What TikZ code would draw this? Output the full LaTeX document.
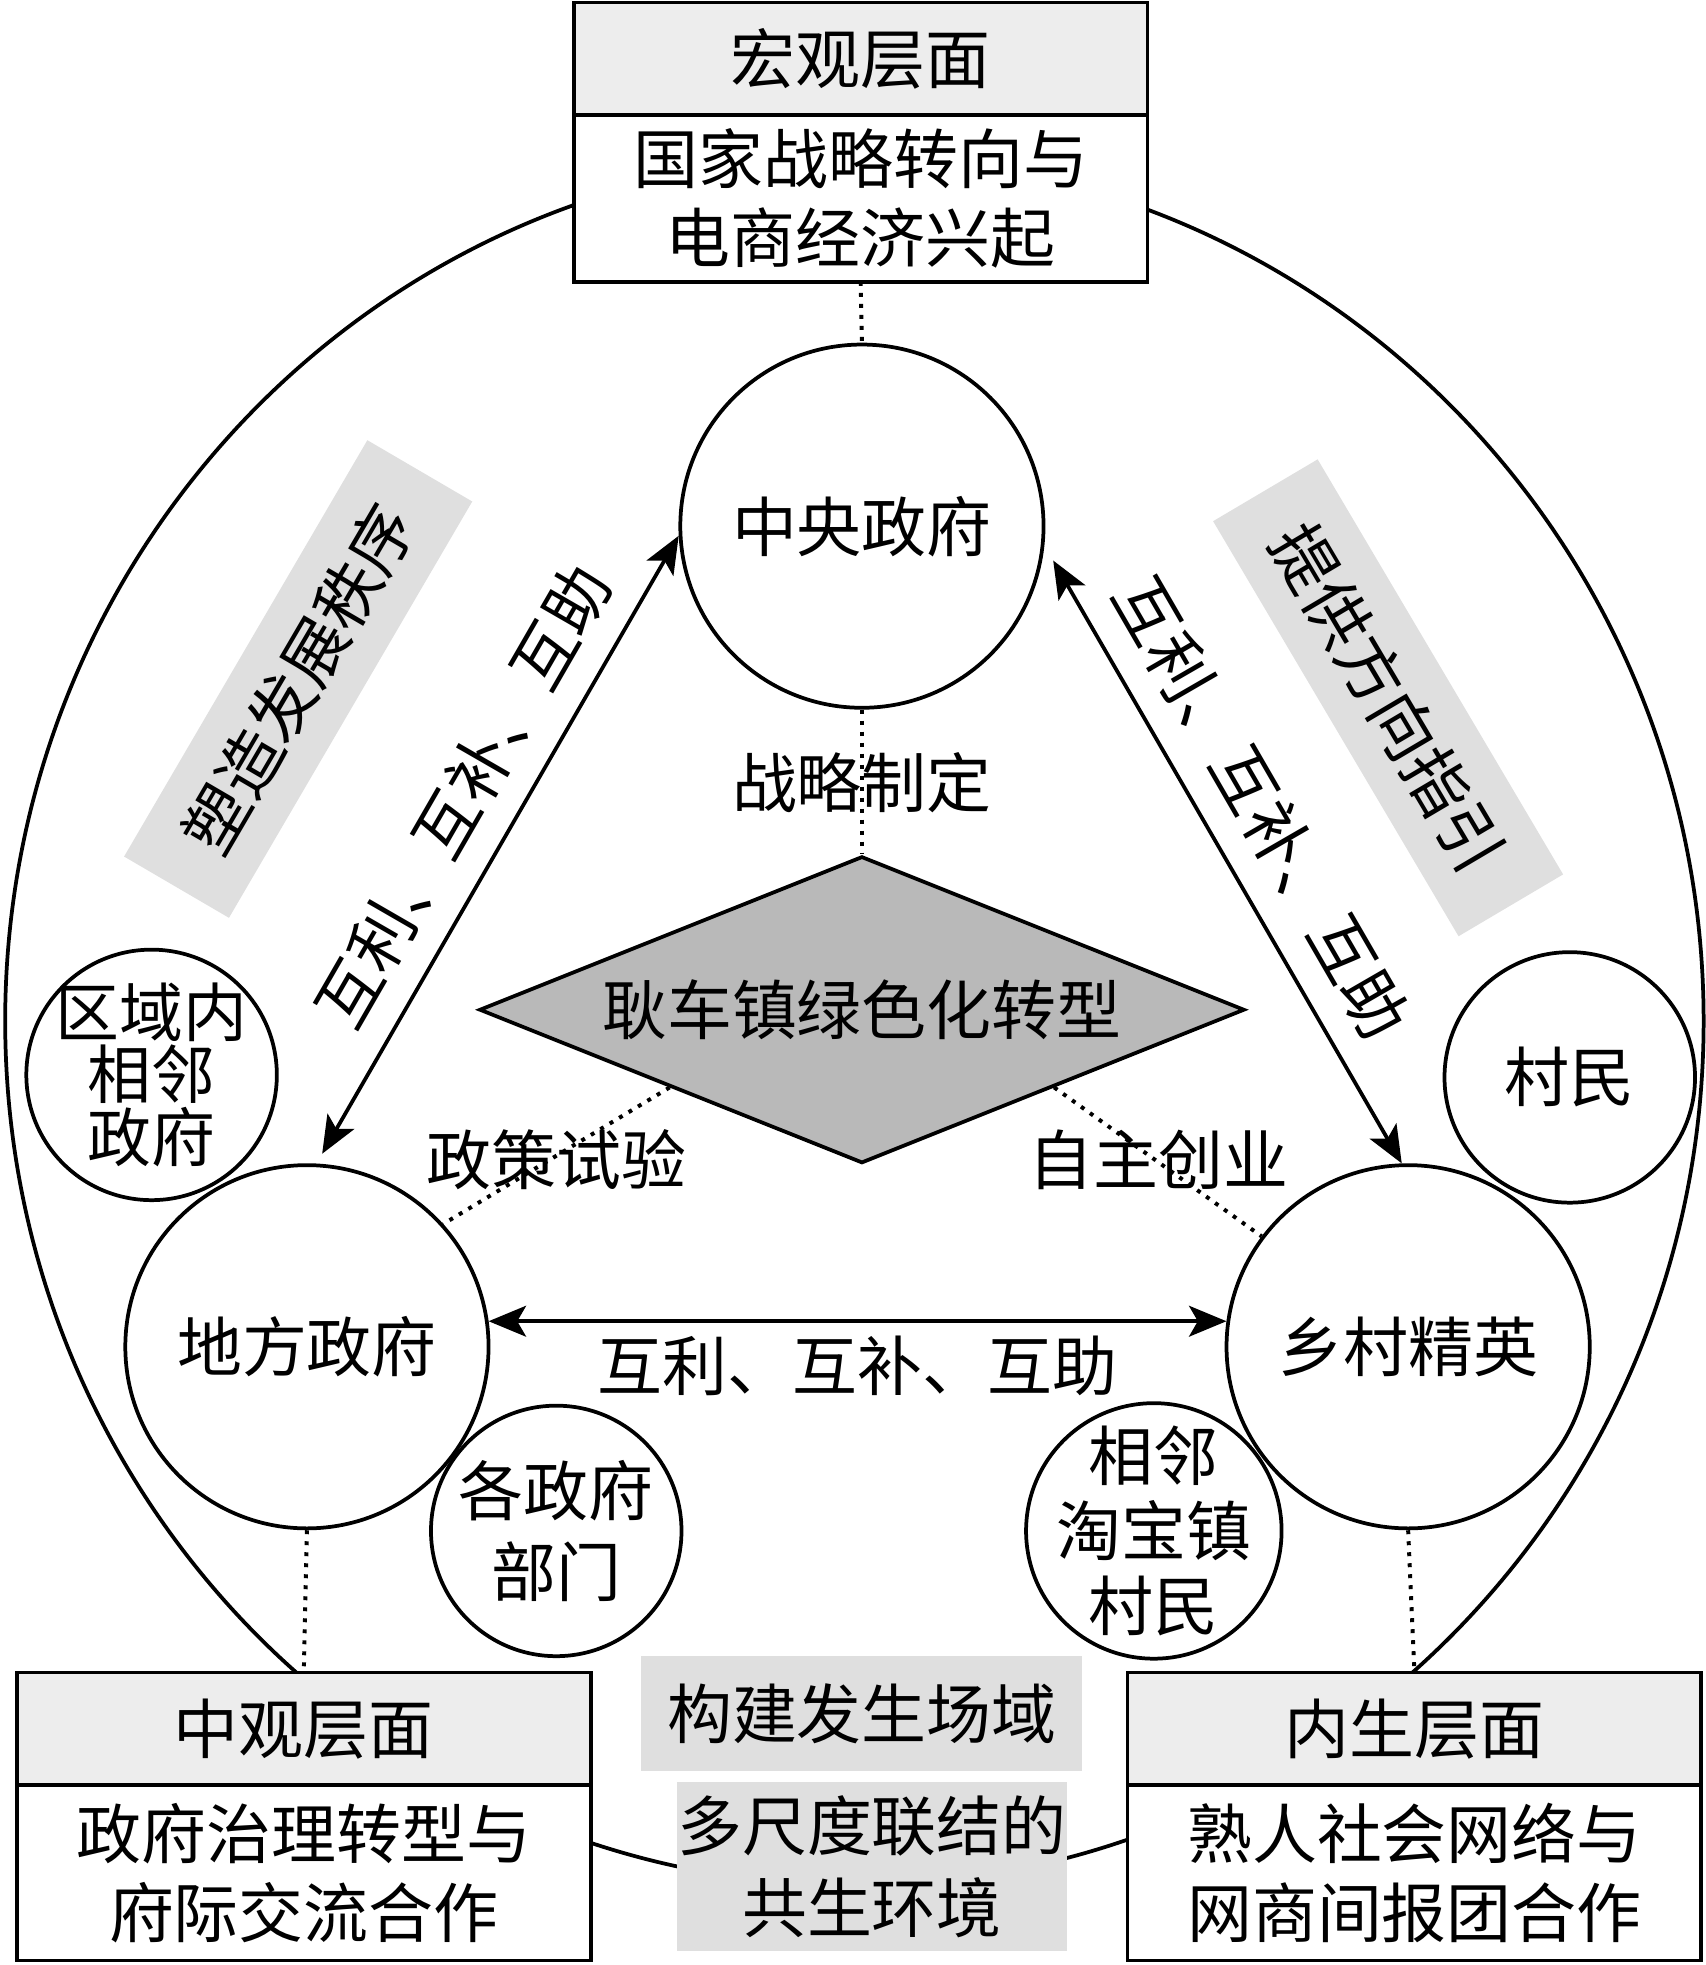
\documentclass[tikz,border=0pt]{standalone}
\usepackage{fontspec}
\setmainfont{Noto Sans CJK SC}
\usetikzlibrary{positioning,shapes.geometric,arrows.meta}
\begin{document}
\begin{tikzpicture}[x=0.02cm,y=-0.02cm,line width=1.7pt,font=\fontsize{29.5}{36}\selectfont,
    >={Stealth[length=17pt,width=14pt,inset=4pt]},
    bigc/.style={circle,draw,minimum size=5.8cm,inner sep=0pt},
    smallc/.style={circle,draw,minimum size=4cm,inner sep=0pt},
    head/.style={draw,fill=gray!14,minimum width=9.16cm,minimum height=1.8cm,inner sep=0pt,outer sep=0pt},
    body/.style={draw,fill=white,minimum width=9.16cm,align=center,inner sep=0pt,outer sep=0pt},
    tag/.style={fill=gray!25,inner sep=0pt,align=center},
    lab/.style={sloped,above,inner sep=0.4cm},
    dots/.style={line width=1.8pt,dash pattern=on 1.8pt off 3.2pt}]
\useasboundingbox (0,0) rectangle (1361,1568.5);
% outer ring
\node[ellipse,draw,minimum width=27.12cm,minimum height=27.6cm,inner sep=0pt] (ring) at (682,815) {};
% three levels
\node[head] (machead) at (687,47) {宏观层面};
\node[body,minimum height=2.66cm,below=0pt of machead] (macbody) {国家战略转向与\\电商经济兴起};
\node[head] (mesohead) at (242.5,1380) {中观层面};
\node[body,minimum height=2.8cm,below=0pt of mesohead] (mesobody) {政府治理转型与\\府际交流合作};
\node[head] (endohead) at (1129,1380) {内生层面};
\node[body,minimum height=2.8cm,below=0pt of endohead] (endobody) {熟人社会网络与\\网商间报团合作};
% actors
\node[bigc] (central) at (688,420) {中央政府};
\node[bigc] (local) at (245,1075) {地方政府};
\node[bigc] (elite) at (1124,1075) {乡村精英};
\node[diamond,draw,fill=gray!55,minimum width=12.22cm,minimum height=4.9cm,aspect=2.5,inner sep=0pt] (core) at (688,806) {耿车镇绿色化转型};
\node[smallc] (nbgov) at (121,858) {};
\node[align=center,font=\fontsize{29}{28.5}\selectfont] (nbgovtext) at (nbgov) {区域内\\相邻\\政府};
\node[smallc] (villager) at (1253,860) {村民};
\node[smallc] (depts) at (444,1222) {};
\node[align=center,font=\fontsize{29.5}{37}\selectfont] (deptstext) at (depts) {各政府\\部门};
\node[smallc,minimum size=4.08cm] (nbtown) at (921,1222) {};
\node[align=center,font=\fontsize{29.5}{34}\selectfont] (nbtowntext) at (nbtown) {相邻\\淘宝镇\\村民};
% grey tags
\node[tag,rotate=59.7,minimum width=7.7cm,minimum height=1.94cm] (order) at (238,542) {塑造发展秩序};
\node[tag,rotate=-59.4,minimum width=7.7cm,minimum height=1.94cm] (guide) at (1108,557) {提供方向指引};
\node[tag,minimum width=7.04cm,minimum height=1.84cm] (field) at (688,1368) {构建发生场域};
\node[tag,minimum width=6.12cm,minimum height=2.7cm,font=\fontsize{29.5}{37}\selectfont] (symb) at (696,1490) {多尺度联结的\\共生环境};
\node (strategy) at (688,625) {战略制定};
\node (pilot) at (444,926) {政策试验};
\node (startup) at (925,926) {自主创业};
% links
\draw[dots] (macbody.south) -- (central.north);
\draw[dots] (central.south) -- (core.north);
\draw[dots] (core.south west) -- (local.42);
\draw[dots] (core.south east) -- (elite.143);
\draw[dots] (local.south) -- (mesohead.north);
\draw[dots] (elite.south) -- (endohead.north);
\path (local.87) edge[<->,shorten <=0.18cm] node[lab,pos=0.54] {互利、互补、互助} (central.183);
\path (central.-6) edge[<->,shorten <=0.28cm] node[lab,pos=0.47] {互利、互补、互助} (elite.92);
\path (local.8) edge[<->] node[below,inner sep=0.2cm] {互利、互补、互助} (elite.172);
\end{tikzpicture}
\end{document}
